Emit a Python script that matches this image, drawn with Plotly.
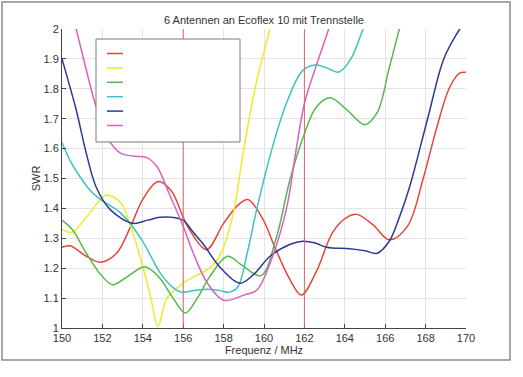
import plotly.graph_objects as go

title_text = "6 Antennen an Ecoflex 10 mit Trennstelle"
x_label = "Frequenz / MHz"
y_label = "SWR"

x_ticks = [150, 152, 154, 156, 158, 160, 162, 164, 166, 168, 170]
y_ticks = [1.0, 1.1, 1.2, 1.3, 1.4, 1.5, 1.6, 1.7, 1.8, 1.9, 2.0]
y_tick_labels = ["1", "1.1", "1.2", "1.3", "1.4", "1.5", "1.6", "1.7", "1.8", "1.9", "2"]
marker_freqs = [156, 162]

red_x = [150, 150.4, 151.2, 151.9, 152.7, 153.4, 154.0, 154.75, 155.4, 156.0, 156.3, 157.15, 158.0, 158.7, 159.2,
         159.9, 160.6, 161.3, 161.85, 162.6, 163.4, 164.1, 164.6, 165.4, 166.2, 167.1, 167.9, 168.55, 169.2, 169.7, 170]
red_y = [1.27, 1.275, 1.24, 1.22, 1.25, 1.34, 1.43, 1.49, 1.46, 1.37, 1.33, 1.262, 1.35, 1.41, 1.43,
         1.37, 1.26, 1.16, 1.11, 1.19, 1.32, 1.37, 1.38, 1.345, 1.295, 1.34, 1.505, 1.67, 1.806, 1.853, 1.855]

yellow_x = [150, 150.5, 151.2, 151.9, 152.2, 152.9, 153.4, 153.9, 154.4, 154.75, 155.2, 156.0, 156.5, 157.3,
            157.7, 158.0, 158.5, 159.0, 159.65, 160.3, 160.6]
yellow_y = [1.33, 1.32, 1.37, 1.43, 1.445, 1.42, 1.34, 1.23, 1.10, 1.005, 1.10, 1.15, 1.17, 1.20,
            1.23, 1.27, 1.39, 1.60, 1.83, 2.0, 2.08]

green_x = [150, 150.5, 151.2, 151.9, 152.5, 153.2, 154.1, 154.8, 155.5, 156.1, 156.7, 157.3, 158.2, 158.9,
           159.85, 160.6, 161.3, 162.0, 162.6, 163.27, 164.1, 165.0, 165.6, 166.2, 166.7, 167.0]
green_y = [1.36, 1.33, 1.25, 1.18, 1.145, 1.17, 1.205, 1.17, 1.10, 1.05, 1.10, 1.17, 1.24, 1.21,
           1.175, 1.30, 1.50, 1.65, 1.74, 1.77, 1.73, 1.68, 1.72, 1.87, 2.0, 2.08]

cyan_x = [150, 150.4, 150.9, 151.4, 151.9, 152.9, 153.9, 154.9, 155.5, 155.9, 156.5, 157.2, 157.8, 158.3,
          158.7, 159.2, 159.65, 160.4, 161.1, 161.9, 162.5, 163.1, 163.7, 164.3, 164.9, 165.2]
cyan_y = [1.62, 1.56, 1.505, 1.46, 1.43, 1.385, 1.30, 1.18, 1.135, 1.12, 1.125, 1.13, 1.125, 1.12,
          1.137, 1.26, 1.40, 1.60, 1.75, 1.86, 1.88, 1.87, 1.856, 1.90, 2.0, 2.06]

blue_x = [150, 150.7, 151.2, 151.7, 152.4, 153.5, 154.2, 154.85, 155.5, 156.0, 156.5, 157.0, 157.8, 158.8,
          159.5, 160.3, 161.3, 161.9, 162.5, 163.1, 164.25, 165.0, 165.6, 166.2, 166.7, 167.2, 168.1, 168.9,
          169.6, 170]
blue_y = [1.9, 1.73, 1.585, 1.47, 1.395, 1.35, 1.36, 1.37, 1.37, 1.36, 1.32, 1.28, 1.205, 1.15,
          1.18, 1.24, 1.28, 1.29, 1.285, 1.27, 1.265, 1.258, 1.25, 1.29, 1.37, 1.47, 1.70, 1.90,
          1.99, 2.03]

magenta_x = [150.3, 150.7, 151.6, 152.0, 152.4, 152.9, 153.5, 154.2, 154.7, 155.3, 156.0, 156.5, 157.2,
             158.0, 159.0, 159.65, 160.3, 161.1, 161.6, 162.0, 162.6, 163.2, 163.5]
magenta_y = [2.1, 2.0, 1.76, 1.68, 1.62, 1.585, 1.575, 1.57, 1.54, 1.45, 1.34, 1.25, 1.15,
             1.093, 1.11, 1.127, 1.217, 1.395, 1.6, 1.75, 1.88, 2.0, 2.07]

series = [
    (red_x, red_y, "#e4483a"),
    (yellow_x, yellow_y, "#eeea2a"),
    (green_x, green_y, "#52bb4a"),
    (cyan_x, cyan_y, "#3cc4bd"),
    (blue_x, blue_y, "#2c3a94"),
    (magenta_x, magenta_y, "#d663c2"),
]

# plot area geometry in pixels (for paper-referenced decorations)
L, R, T, B = 62, 466, 29, 328
W, H = R - L, B - T


def px(xp):
    return (xp - L) / W


def py(yp):
    return (B - yp) / H


fig = go.Figure()
for xs, ys, col in series:
    fig.add_trace(go.Scatter(
        x=xs, y=ys, mode="lines", showlegend=False, hoverinfo="skip",
        line=dict(color=col, width=1.5, shape="spline", smoothing=1.0),
    ))

for f in marker_freqs:
    fig.add_shape(type="line", x0=f, x1=f, y0=1, y1=2, xref="x", yref="y",
                  line=dict(color="#d9666a", width=1), layer="above")

# legend box (samples only, no labels as in the original)
fig.add_shape(type="rect", xref="paper", yref="paper", x0=px(96), x1=px(240), y0=py(142), y1=py(39),
              line=dict(color="#7a7a7a", width=1), fillcolor="#ffffff", layer="above")
for i, (_, _, col) in enumerate(series):
    yy = 53.5 + i * 14.4
    fig.add_shape(type="line", xref="paper", yref="paper", x0=px(107), x1=px(123), y0=py(yy), y1=py(yy),
                  line=dict(color=col, width=1.5), layer="above")

# outer page frame
fig.add_shape(type="rect", xref="paper", yref="paper",
              x0=px(2), x1=px(510), y0=py(360), y1=py(2),
              line=dict(color="#8a8a8a", width=1.5), fillcolor="rgba(0,0,0,0)", layer="below")

fig.update_layout(
    template="none",
    width=523, height=377,
    margin=dict(l=L, r=523 - R, t=T, b=377 - B, autoexpand=False),
    paper_bgcolor="#ffffff", plot_bgcolor="#ffffff",
    font=dict(family="Liberation Sans, Arial, sans-serif", size=11, color="#333333"),
    title=dict(text=title_text, x=264 / 523, xanchor="center", y=1 - 20 / 377, yanchor="middle",
               font=dict(size=11, color="#333333")),
    showlegend=False,
    hovermode=False,
)
fig.update_xaxes(range=[150, 170], tickvals=x_ticks, ticks="inside", ticklen=4, tickcolor="#444",
                 showline=True, linecolor="#444", linewidth=1, mirror=False, automargin=False,
                 showgrid=True, gridcolor="#e4e4e4", gridwidth=1, zeroline=False,
                 tickfont=dict(color="#333333", size=11),
                 title=dict(text=x_label, standoff=2, font=dict(color="#333333", size=11)))
fig.update_yaxes(range=[1, 2], tickvals=y_ticks, ticktext=y_tick_labels, ticks="inside", ticklen=4,
                 tickcolor="#444", showline=True, linecolor="#444", linewidth=1, mirror=False,
                 automargin=False, showgrid=True, gridcolor="#e4e4e4", gridwidth=1, zeroline=False,
                 tickfont=dict(color="#333333", size=11),
                 title=dict(text=y_label, standoff=0, font=dict(color="#333333", size=11)))

fig.write_html("out.html", config={"displayModeBar": False},
               post_script="document.body.style.margin='0';document.body.style.overflow='hidden';")
